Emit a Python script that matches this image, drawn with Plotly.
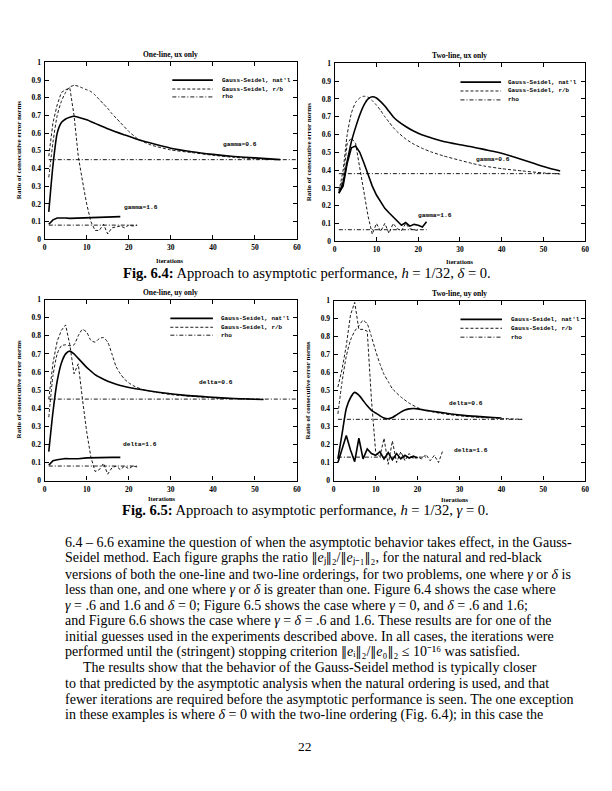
import plotly.graph_objects as go

W, H = 612, 791

# ---------------- data ----------------
# Top-left: One-line, ux only
tl_nat06_x = [1, 2, 3, 4, 5, 6, 7, 8, 10, 12, 15, 19, 22, 25, 30, 35, 40, 45, 50, 56]
tl_nat06_y = [0.155, 0.42, 0.6, 0.66, 0.68, 0.69, 0.695, 0.69, 0.675, 0.655, 0.625, 0.59, 0.565, 0.545, 0.515, 0.495, 0.48, 0.468, 0.46, 0.45]
tl_rb06_x = [1, 2, 3, 4, 5, 6, 7, 8, 9, 10, 11, 12, 13, 14, 15, 16, 17, 18, 20, 22, 25, 30, 35, 40, 45, 50, 55]
tl_rb06_y = [0.35, 0.55, 0.7, 0.78, 0.83, 0.86, 0.87, 0.865, 0.855, 0.845, 0.835, 0.815, 0.79, 0.765, 0.74, 0.71, 0.685, 0.66, 0.61, 0.57, 0.535, 0.505, 0.49, 0.475, 0.463, 0.455, 0.45]
tl_rho06_x = [1, 60]
tl_rho06_y = [0.45, 0.45]
tl_nat16_x = [1, 2, 3, 4, 5, 6, 8, 10, 12, 14, 16, 18]
tl_nat16_y = [0.085, 0.11, 0.12, 0.122, 0.12, 0.118, 0.12, 0.122, 0.124, 0.126, 0.13, 0.128]
tl_rb16_x = [1, 2, 3, 4, 5, 6, 7, 8, 9, 10, 11, 12, 13, 14, 15, 16, 17, 18, 19, 20, 21, 22]
tl_rb16_y = [0.47, 0.66, 0.76, 0.83, 0.845, 0.855, 0.7, 0.47, 0.33, 0.2, 0.1, 0.05, 0.05, 0.085, 0.03, 0.065, 0.07, 0.075, 0.065, 0.08, 0.075, 0.08]
tl_rho16_x = [1, 22]
tl_rho16_y = [0.08, 0.08]

# Top-right: Two-line, ux only
tr_nat06_x = [1, 2, 3, 4, 5, 6, 7, 8, 9, 10, 11, 12, 13, 14, 15, 17, 19, 21, 23, 25, 27, 30, 33, 36, 39, 42, 45, 48, 51, 54]
tr_nat06_y = [0.27, 0.33, 0.45, 0.56, 0.64, 0.71, 0.765, 0.8, 0.812, 0.805, 0.785, 0.76, 0.73, 0.7, 0.678, 0.645, 0.618, 0.597, 0.582, 0.568, 0.556, 0.542, 0.53, 0.515, 0.5, 0.48, 0.458, 0.435, 0.413, 0.395]
tr_rb06_x = [1, 2, 3, 4, 5, 6, 7, 8, 9, 10, 11, 12, 13, 14, 15, 17, 19, 21, 23, 26, 30, 33, 36, 40, 45, 50, 54]
tr_rb06_y = [0.28, 0.4, 0.6, 0.72, 0.78, 0.805, 0.815, 0.81, 0.79, 0.765, 0.735, 0.7, 0.67, 0.64, 0.615, 0.575, 0.545, 0.522, 0.503, 0.48, 0.455, 0.437, 0.422, 0.408, 0.395, 0.384, 0.378]
tr_rho06_x = [1, 54]
tr_rho06_y = [0.38, 0.38]
tr_nat16_x = [1, 2, 3, 4, 5, 6, 7, 8, 9, 10, 11, 12, 13, 14, 15, 16, 17, 18, 19, 20, 21, 22]
tr_nat16_y = [0.27, 0.31, 0.44, 0.525, 0.535, 0.5, 0.44, 0.37, 0.31, 0.26, 0.22, 0.185, 0.16, 0.135, 0.11, 0.09, 0.105, 0.085, 0.095, 0.09, 0.08, 0.11]
tr_rb16_x = [1, 2, 3, 4, 5, 6, 7, 8, 9, 10, 11, 12, 13, 14, 15, 16, 17, 18, 19, 20]
tr_rb16_y = [0.29, 0.35, 0.55, 0.58, 0.55, 0.42, 0.27, 0.14, 0.04, 0.1, 0.055, 0.1, 0.045, 0.1, 0.07, 0.06, 0.1, 0.07, 0.065, 0.06]
tr_rho16_x = [1, 22]
tr_rho16_y = [0.065, 0.065]

# Bottom-left: One-line, uy only
bl_nat06_x = [1, 2, 3, 4, 5, 6, 7, 8, 9, 10, 11, 12, 14, 16, 18, 21, 25, 29, 33, 37, 41, 45, 52]
bl_nat06_y = [0.16, 0.38, 0.55, 0.65, 0.7, 0.715, 0.7, 0.675, 0.65, 0.625, 0.605, 0.585, 0.56, 0.54, 0.525, 0.51, 0.495, 0.482, 0.472, 0.465, 0.458, 0.453, 0.448]
bl_rb06_x = [1, 2, 3, 4, 5, 6, 7, 8, 9, 10, 11, 12, 13, 14, 15, 16, 17, 18, 19, 20, 21, 23, 26, 30, 35, 40, 45, 52]
bl_rb06_y = [0.35, 0.58, 0.7, 0.745, 0.75, 0.745, 0.75, 0.8, 0.835, 0.82, 0.775, 0.765, 0.785, 0.79, 0.765, 0.7, 0.63, 0.59, 0.56, 0.54, 0.525, 0.505, 0.49, 0.475, 0.465, 0.457, 0.452, 0.448]
bl_rho06_x = [1, 60]
bl_rho06_y = [0.45, 0.45]
bl_nat16_x = [1, 2, 3, 4, 5, 6, 8, 10, 12, 14, 16, 18]
bl_nat16_y = [0.085, 0.11, 0.115, 0.12, 0.122, 0.12, 0.12, 0.125, 0.127, 0.128, 0.128, 0.128]
bl_rb16_x = [1, 2, 3, 4, 5, 6, 7, 8, 9, 10, 11, 12, 13, 14, 15, 16, 17, 18, 19, 20, 21, 22]
bl_rb16_y = [0.45, 0.65, 0.77, 0.83, 0.86, 0.75, 0.59, 0.645, 0.45, 0.27, 0.13, 0.05, 0.06, 0.095, 0.035, 0.07, 0.08, 0.06, 0.08, 0.065, 0.08, 0.075]
bl_rho16_x = [1, 22]
bl_rho16_y = [0.08, 0.08]

# Bottom-right: Two-line, uy only
br_nat06_x = [1, 2, 3, 4, 5, 6, 7, 8, 9, 10, 11, 12, 13, 14, 15, 16, 17, 18, 19, 20, 22, 25, 28, 31, 35, 38, 40]
br_nat06_y = [0.12, 0.26, 0.4, 0.46, 0.49, 0.475, 0.445, 0.415, 0.39, 0.375, 0.36, 0.347, 0.343, 0.35, 0.365, 0.38, 0.392, 0.398, 0.4, 0.398, 0.39, 0.38, 0.37, 0.362, 0.355, 0.35, 0.347]
br_rb06_x = [1, 2, 3, 4, 5, 6, 7, 8, 9, 10, 11, 12, 13, 14, 16, 18, 20, 22, 25, 28, 31, 35, 40, 45]
br_rb06_y = [0.37, 0.55, 0.69, 0.78, 0.83, 0.86, 0.89, 0.87, 0.8, 0.72, 0.65, 0.59, 0.55, 0.51, 0.465, 0.43, 0.405, 0.39, 0.375, 0.365, 0.357, 0.35, 0.345, 0.34]
br_rho06_x = [1, 45]
br_rho06_y = [0.34, 0.34]
br_nat16_x = [1, 2, 3, 4, 5, 6, 7, 8, 9, 10, 11, 12, 13, 14, 15, 16, 17, 18, 19, 20]
br_nat16_y = [0.1, 0.18, 0.25, 0.17, 0.105, 0.235, 0.12, 0.175, 0.15, 0.14, 0.16, 0.12, 0.155, 0.115, 0.15, 0.12, 0.14, 0.125, 0.135, 0.125]
br_rb16_x = [1, 2, 3, 4, 5, 6, 7, 8, 9, 10, 11, 12, 13, 14, 15, 16, 17, 18, 19, 20, 21, 22, 23, 24, 25, 26]
br_rb16_y = [0.52, 0.62, 0.75, 0.92, 0.99, 0.84, 0.84, 0.83, 0.45, 0.16, 0.13, 0.235, 0.09, 0.22, 0.1, 0.16, 0.11, 0.15, 0.12, 0.13, 0.12, 0.145, 0.11, 0.14, 0.1, 0.165]
br_rho16_x = [1, 22]
br_rho16_y = [0.13, 0.13]

panel_titles = ["One-line, ux only", "Two-line, ux only", "One-line, uy only", "Two-line, uy only"]
legend_labels = ["Gauss-Seidel, nat'l", "Gauss-Seidel, r/b", "rho"]
x_ticks = [0, 10, 20, 30, 40, 50, 60]
y_ticks = [0, 0.1, 0.2, 0.3, 0.4, 0.5, 0.6, 0.7, 0.8, 0.9, 1]

# ---------------- layout helpers ----------------
def px(x, y):
    return x / W, 1 - y / H

SERIF = "Liberation Serif"
MONO = "Liberation Mono"

STY = {
    "nat": dict(color="black", width=1.6, dash="solid"),
    "rb": dict(color="black", width=0.9, dash="3px,2px"),
    "rho": dict(color="black", width=0.9, dash="4px,2px,1px,2px"),
}

# axis domains in pixels: (left, right, top, bottom)
boxes = [(43, 298, 59, 238), (336, 589, 60, 240), (43, 298, 299, 482), (335, 589, 300, 482)]

fig = go.Figure()

panels = [
    [(tl_nat06_x, tl_nat06_y, "nat", True), (tl_rb06_x, tl_rb06_y, "rb", True), (tl_rho06_x, tl_rho06_y, "rho", False),
     (tl_nat16_x, tl_nat16_y, "nat", False), (tl_rb16_x, tl_rb16_y, "rb", False), (tl_rho16_x, tl_rho16_y, "rho", False)],
    [(tr_nat06_x, tr_nat06_y, "nat", True), (tr_rb06_x, tr_rb06_y, "rb", True), (tr_rho06_x, tr_rho06_y, "rho", False),
     (tr_nat16_x, tr_nat16_y, "nat", False), (tr_rb16_x, tr_rb16_y, "rb", False), (tr_rho16_x, tr_rho16_y, "rho", False)],
    [(bl_nat06_x, bl_nat06_y, "nat", True), (bl_rb06_x, bl_rb06_y, "rb", True), (bl_rho06_x, bl_rho06_y, "rho", False),
     (bl_nat16_x, bl_nat16_y, "nat", False), (bl_rb16_x, bl_rb16_y, "rb", False), (bl_rho16_x, bl_rho16_y, "rho", False)],
    [(br_nat06_x, br_nat06_y, "nat", True), (br_rb06_x, br_rb06_y, "rb", True), (br_rho06_x, br_rho06_y, "rho", False),
     (br_nat16_x, br_nat16_y, "nat", False), (br_rb16_x, br_rb16_y, "rb", False), (br_rho16_x, br_rho16_y, "rho", False)],
]

for i, series in enumerate(panels):
    xa = "x" if i == 0 else f"x{i+1}"
    ya = "y" if i == 0 else f"y{i+1}"
    for xs, ys, kind, smooth in series:
        fig.add_trace(go.Scatter(
            x=xs, y=ys, mode="lines", xaxis=xa, yaxis=ya, showlegend=False,
            line=dict(**STY[kind], shape="spline" if smooth else "linear", smoothing=0.6),
            hoverinfo="skip"))

tickfont = dict(family=SERIF, size=7.5, color="black", weight="bold")
layout_axes = {}
for i, (l, r, t, b) in enumerate(boxes):
    xn = "xaxis" if i == 0 else f"xaxis{i+1}"
    yn = "yaxis" if i == 0 else f"yaxis{i+1}"
    xa = "x" if i == 0 else f"x{i+1}"
    ya = "y" if i == 0 else f"y{i+1}"
    layout_axes[xn] = dict(domain=[l / W, r / W], range=[0, 60], tickvals=x_ticks, anchor=ya,
                           showgrid=False, zeroline=False, showline=True, linecolor="black", linewidth=1.3,
                           mirror="ticks", ticks="inside", ticklen=4, tickcolor="black", tickwidth=1,
                           tickfont=tickfont, ticklabelstandoff=1)
    layout_axes[yn] = dict(domain=[1 - b / H, 1 - t / H], range=[0, 1], tickvals=y_ticks, anchor=xa,
                           showgrid=False, zeroline=False, showline=True, linecolor="black", linewidth=1.3,
                           mirror="ticks", ticks="inside", ticklen=4, tickcolor="black", tickwidth=1,
                           tickfont=tickfont, ticklabelstandoff=1)

annotations = []
shapes = []

def text(x, y, s, size, family=SERIF, bold=False, xanchor="center", angle=0):
    xx, yy = px(x, y)
    annotations.append(dict(x=xx, y=yy, xref="paper", yref="paper", text=s, showarrow=False,
                            xanchor=xanchor, yanchor="middle", textangle=angle,
                            font=dict(family=family, size=size, color="black",
                                      weight="bold" if bold else "normal")))

# panel titles, x labels, y labels
title_pos = [(170, 51), (462, 52), (170, 292), (462, 293)]
xlab_pos = [(170, 259), (463, 260), (162, 500.5), (457, 501)]
ylab_pos = [(17, 148), (310, 150), (17, 390), (309, 391)]
for i in range(4):
    text(*title_pos[i], panel_titles[i], 7.5, bold=True)
    text(*xlab_pos[i], "Iterations", 6.5, bold=True)
    text(*ylab_pos[i], "Ratio of consecutive error norms", 7, bold=True, angle=-90)

# legends (manual, as in the original)
leg_geo = [((172, 213, 220), (77, 86, 94)), ((463, 504, 509), (79, 88, 97)),
           ((170, 213, 219), (318, 327, 335)), ((463, 505, 512), (319, 328, 337))]
for (x0, x1, xt), rows in leg_geo:
    for kind, lab, yrow in zip(["nat", "rb", "rho"], legend_labels, rows):
        a0, b0 = px(x0, yrow)
        a1, _ = px(x1, yrow)
        shapes.append(dict(type="line", xref="paper", yref="paper", x0=a0, x1=a1, y0=b0, y1=b0,
                           line=dict(color="black", width=STY[kind]["width"], dash=STY[kind]["dash"])))
        text(xt, yrow, lab, 6.0, family=MONO, bold=True, xanchor="left")

# curve labels in data coordinates
curve_labels = [
    ("x", "y", 42.0, 0.535, "gamma=0.6"), ("x", "y", 18.5, 0.18, "gamma=1.6"),
    ("x2", "y2", 33.4, 0.457, "gamma=0.6"), ("x2", "y2", 19.5, 0.146, "gamma=1.6"),
    ("x3", "y3", 36.2, 0.539, "delta=0.6"), ("x3", "y3", 18.2, 0.20, "delta=1.6"),
    ("x4", "y4", 27.0, 0.427, "delta=0.6"), ("x4", "y4", 28.1, 0.165, "delta=1.6"),
]
for xr, yr, xv, yv, s in curve_labels:
    annotations.append(dict(x=xv, y=yv, xref=xr, yref=yr, text=s, showarrow=False, xanchor="left",
                            yanchor="middle", font=dict(family=MONO, size=6.2, color="black", weight="bold")))

# captions
text(308, 272, "<b>Fig. 6.4:</b> Approach to asymptotic performance, <i>h</i> = 1/32, <i>δ</i> = 0.", 14.6)
text(306, 512, "<b>Fig. 6.5:</b> Approach to asymptotic performance, <i>h</i> = 1/32, <i>γ</i> = 0.", 14.6)

NORM = '<span style="font-family:DejaVu Serif;font-size:12px">‖</span>'
body = [
    "6.4 – 6.6 examine the question of when the asymptotic behavior takes effect, in the Gauss-",
    f"Seidel method. Each figure graphs the ratio {NORM}<i>e</i>ⱼ{NORM}₂/{NORM}<i>e</i>ⱼ₋₁{NORM}₂, for the natural and red-black",
    "versions of both the one-line and two-line orderings, for two problems, one where <i>γ</i> or <i>δ</i> is",
    "less than one, and one where <i>γ</i> or <i>δ</i> is greater than one. Figure 6.4 shows the case where",
    "<i>γ</i> = .6 and 1.6 and <i>δ</i> = 0; Figure 6.5 shows the case where <i>γ</i> = 0, and <i>δ</i> = .6 and 1.6;",
    "and Figure 6.6 shows the case where <i>γ</i> = <i>δ</i> = .6 and 1.6. These results are for one of the",
    "initial guesses used in the experiments described above. In all cases, the iterations were",
    f"performed until the (stringent) stopping criterion {NORM}<i>e</i>ᵢ{NORM}₂/{NORM}<i>e</i>₀{NORM}₂ ≤ 10⁻¹⁶ was satisfied.",
    "The results show that the behavior of the Gauss-Seidel method is typically closer",
    "to that predicted by the asymptotic analysis when the natural ordering is used, and that",
    "fewer iterations are required before the asymptotic performance is seen. The one exception",
    "in these examples is where <i>δ</i> = 0 with the two-line ordering (Fig. 6.4); in this case the",
]
for k, line in enumerate(body):
    xl = 80 if k == 8 else 62
    text(xl, 545 + 15.8 * k, line, 14, xanchor="left")

text(306, 751, "22", 13.5)

fig.update_layout(width=W, height=H, margin=dict(l=0, r=0, t=0, b=0),
                  paper_bgcolor="white", plot_bgcolor="white", showlegend=False,
                  annotations=annotations, shapes=shapes, **layout_axes)

fig.write_html("out.html", config={"displayModeBar": False},
               post_script="document.body.style.margin='0';")
